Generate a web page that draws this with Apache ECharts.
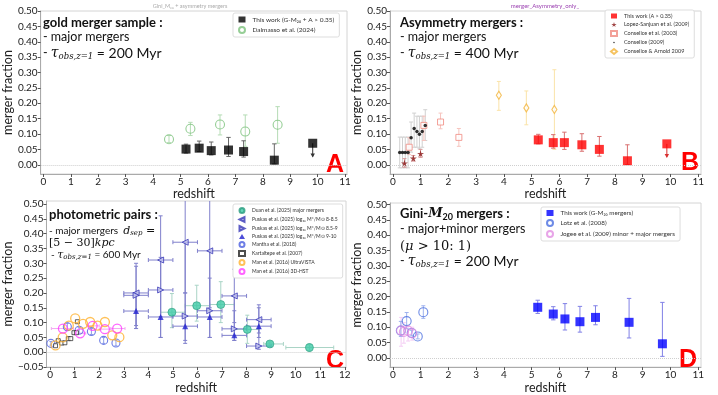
<!DOCTYPE html>
<html>
<head>
<meta charset="utf-8">
<script src="https://cdn.jsdelivr.net/npm/echarts@6/dist/echarts.min.js"></script>
<style>
  html, body { margin: 0; padding: 0; background: #fff; }
  #main { width: 718px; height: 395px; }
</style>
</head>
<body>
<div id="main"></div>
<script>
// ---- tick labels ----
const xTicks11 = [0, 1, 2, 3, 4, 5, 6, 7, 8, 9, 10, 11];
const xTicks12 = [0, 1, 2, 3, 4, 5, 6, 7, 8, 9, 10, 11, 12];
const yTicks = [0, 0.05, 0.10, 0.15, 0.20, 0.25, 0.30, 0.35, 0.40, 0.45, 0.50];
const yTicksC = [-0.05, 0, 0.05, 0.10, 0.15, 0.20, 0.25, 0.30, 0.35, 0.40, 0.45, 0.50];

// ---- panel A: gold merger sample ----
const aWorkZ = [5.20, 5.68, 6.12, 6.75, 7.30, 8.42];
const aWorkF = [0.051, 0.054, 0.046, 0.048, 0.043, 0.015];
const aWorkLo = [0.038, 0.043, 0.032, 0.027, 0.025, 0.003];
const aWorkHi = [0.067, 0.077, 0.074, 0.089, 0.078, 0.068];
const aLimZ = [9.82];
const aLimF = [0.070];
const aLimEnd = [0.027];
const dalZ = [4.58, 5.36, 6.44, 7.36, 8.54];
const dalF = [0.083, 0.117, 0.131, 0.108, 0.130];
const dalLo = [0.072, 0.095, 0.097, 0.060, 0.070];
const dalHi = [0.095, 0.138, 0.162, 0.162, 0.189];

// ---- panel B: asymmetry mergers ----
const bWorkZ = [5.24, 5.78, 6.18, 6.81, 7.44, 8.45];
const bWorkF = [0.081, 0.072, 0.072, 0.065, 0.050, 0.013];
const bWorkLo = [0.068, 0.054, 0.050, 0.044, 0.028, 0.001];
const bWorkHi = [0.099, 0.098, 0.106, 0.101, 0.092, 0.065];
const bLimZ = [9.87];
const bLimF = [0.068];
const bLimEnd = [0.025];
const lopezZ = [0.42, 0.74, 1.00];
const lopezF = [0.005, 0.021, 0.036];
const lopezLo = [-0.008, 0.012, 0.024];
const lopezHi = [0.020, 0.030, 0.050];
const con03Z = [0.59, 1.12, 1.72, 2.38];
const con03F = [0.057, 0.128, 0.139, 0.089];
const con03Lo = [0.033, 0.079, 0.117, 0.060];
const con03Hi = [0.088, 0.158, 0.168, 0.118];
const con09Z = [0.25, 0.35, 0.45, 0.55, 0.66, 0.77, 0.87, 0.96, 1.06, 1.17];
const con09F = [0.040, 0.040, 0.040, 0.040, 0.088, 0.118, 0.108, 0.099, 0.108, 0.128];
const con09Lo = [-0.010, -0.010, -0.010, -0.010, 0.041, 0.057, 0.057, 0.052, 0.057, 0.079];
const con09Hi = [0.090, 0.090, 0.090, 0.090, 0.139, 0.168, 0.158, 0.158, 0.158, 0.179];
const arnZ = [3.82, 4.81, 5.82];
const arnF = [0.226, 0.185, 0.180];
const arnLo = [0.177, 0.130, 0.050];
const arnHi = [0.271, 0.240, 0.309];

// ---- panel C: photometric pairs ----
const duanZ = [4.96, 5.97, 6.95, 8.03, 8.95, 10.56];
const duanF = [0.135, 0.157, 0.161, 0.077, 0.028, 0.016];
const duanLo = [0.083, 0.105, 0.100, 0.030, 0.019, 0.002];
const duanHi = [0.198, 0.226, 0.238, 0.125, 0.035, 0.028];
const duanXlo = [4.50, 5.50, 6.50, 7.50, 8.70, 9.60];
const duanXhi = [5.50, 6.50, 7.50, 8.50, 9.50, 11.55];
const pusZ = [3.5, 4.5, 5.5, 6.5, 7.5, 8.5];
const pusXlo = [3.0, 4.0, 5.0, 6.0, 7.0, 8.0];
const pusXhi = [4.0, 5.0, 6.0, 7.0, 8.0, 9.0];
const pus1F = [0.200, 0.311, 0.371, 0.342, 0.190, 0.110];
const pus1Lo = [0.090, 0.120, 0.200, 0.150, 0.100, 0.065];
const pus1Hi = [0.300, 0.460, 0.560, 0.560, 0.280, 0.160];
const pus2F = [0.192, 0.210, 0.122, 0.140, 0.079, 0.021];
const pus2Lo = [0.080, 0.050, 0.040, 0.050, 0.040, 0.010];
const pus2Hi = [0.290, 0.320, 0.370, 0.340, 0.190, 0.080];
const pus3F = [0.139, 0.119, 0.088, 0.119, 0.057, 0.088];
const pus3Lo = [0.080, 0.050, 0.030, 0.050, 0.040, 0.050];
const pus3Hi = [0.200, 0.310, 0.200, 0.250, 0.140, 0.150];
const manthaZ = [0.03, 0.70, 1.18, 1.68, 2.18, 2.68];
const manthaF = [0.030, 0.086, 0.074, 0.070, 0.040, 0.031];
const manthaLo = [0.024, 0.075, 0.064, 0.060, 0.030, 0.022];
const manthaHi = [0.036, 0.098, 0.084, 0.080, 0.050, 0.040];
const kartZ = [0.22, 0.33, 0.47, 0.60, 0.74, 0.84, 0.97, 1.07, 1.11];
const kartF = [0.022, 0.039, 0.031, 0.032, 0.046, 0.046, 0.066, 0.066, 0.103];
const manUvZ = [0.22, 0.51, 0.76, 1.02, 1.34, 1.63, 1.93, 2.23, 2.53, 2.82];
const manUvF = [0.023, 0.050, 0.090, 0.114, 0.096, 0.102, 0.090, 0.102, 0.057, 0.051];
const man3dZ = [0.52, 1.22, 1.73, 2.23, 2.73];
const man3dF = [0.080, 0.064, 0.089, 0.078, 0.080];
const man3dXlo = [0.05, 1.00, 1.50, 2.00, 2.47];
const man3dXhi = [0.95, 1.45, 2.00, 2.48, 3.05];

// ---- panel D: Gini-M20 mergers ----
const dWorkZ = [5.22, 5.78, 6.20, 6.74, 7.30, 8.51, 9.71];
const dWorkF = [0.165, 0.143, 0.127, 0.118, 0.132, 0.116, 0.046];
const dWorkLo = [0.145, 0.124, 0.091, 0.084, 0.108, 0.065, 0.005];
const dWorkHi = [0.188, 0.167, 0.177, 0.168, 0.170, 0.194, 0.181];
const lotzZ = [0.29, 0.50, 0.68, 0.90, 1.10];
const lotzF = [0.089, 0.120, 0.081, 0.070, 0.149];
const lotzLo = [0.070, 0.095, 0.072, 0.062, 0.129];
const lotzHi = [0.119, 0.148, 0.090, 0.078, 0.170];
const jogeeZ = [0.30, 0.40, 0.55, 0.70];
const jogeeF = [0.089, 0.085, 0.089, 0.080];
const jogeeLo = [0.038, 0.048, 0.055, 0.058];
const jogeeHi = [0.132, 0.115, 0.105, 0.100];

const FONT = 'Lato';
const STAR = 'path://M50,0 L61,35 L98,35 L68,57 L79,91 L50,70 L21,91 L32,57 L2,35 L39,35 Z';
const TRI_LEFT = 'path://M0,5 L10,0 L10,10 Z';
const TRI_RIGHT = 'path://M0,0 L10,5 L0,10 Z';
// small dot inside a larger (invisible) box, so the legend icon stays small
const DOT_ICON = 'path://M0,0 L0.01,0 L0,0.01 Z M10,10 L9.99,10 L10,9.99 Z M6.5,5 A1.5,1.5 0 1 1 6.49,4.9 Z';

function pts(z, f) {
  return z.map((v, i) => [v, f[i]]);
}
function errData(z, f, lo, hi, xlo, xhi) {
  return z.map((v, i) => xlo ? [v, f[i], lo ? lo[i] : f[i], hi ? hi[i] : f[i], xlo[i], xhi[i]]
                             : [v, f[i], lo[i], hi[i]]);
}

function errRender(color, cap, width) {
  return function (params, api) {
    const x = api.value(0), y = api.value(1);
    const lo = api.value(2), hi = api.value(3);
    const xl = api.value(4), xh = api.value(5);
    const st = { stroke: color, lineWidth: width || 1 };
    const ch = [];
    const a = api.coord([x, lo]), b = api.coord([x, hi]);
    if (Math.abs(a[1] - b[1]) > 0.5) {
      ch.push({ type: 'line', shape: { x1: a[0], y1: a[1], x2: b[0], y2: b[1] }, style: st });
      ch.push({ type: 'line', shape: { x1: a[0] - cap, y1: a[1], x2: a[0] + cap, y2: a[1] }, style: st });
      ch.push({ type: 'line', shape: { x1: b[0] - cap, y1: b[1], x2: b[0] + cap, y2: b[1] }, style: st });
    }
    if (typeof xl === 'number' && isFinite(xl)) {
      const c = api.coord([xl, y]), d = api.coord([xh, y]);
      ch.push({ type: 'line', shape: { x1: c[0], y1: c[1], x2: d[0], y2: d[1] }, style: st });
      ch.push({ type: 'line', shape: { x1: c[0], y1: c[1] - cap, x2: c[0], y2: c[1] + cap }, style: st });
      ch.push({ type: 'line', shape: { x1: d[0], y1: d[1] - cap, x2: d[0], y2: d[1] + cap }, style: st });
    }
    return { type: 'group', children: ch };
  };
}

function arrowRender(color) {
  return function (params, api) {
    const a = api.coord([api.value(0), api.value(1)]);
    const b = api.coord([api.value(0), api.value(2)]);
    return {
      type: 'group',
      children: [
        { type: 'line', shape: { x1: a[0], y1: a[1], x2: b[0], y2: b[1] }, style: { stroke: color, lineWidth: 1 } },
        { type: 'polygon', shape: { points: [[b[0] - 2.2, b[1] - 3], [b[0] + 2.2, b[1] - 3], [b[0], b[1] + 1]] }, style: { fill: color } }
      ]
    };
  };
}

function errSeries(p, data, color, cap, width) {
  return {
    type: 'custom', xAxisIndex: p, yAxisIndex: p, silent: true, clip: true, z: 1,
    renderItem: errRender(color, cap, width), encode: { x: 0, y: 1 }, data: data
  };
}
function arrowSeries(p, z, f, end, color) {
  return {
    type: 'custom', xAxisIndex: p, yAxisIndex: p, silent: true, z: 1,
    renderItem: arrowRender(color), encode: { x: 0, y: 1 },
    data: z.map((v, i) => [v, f[i], end[i]])
  };
}
function scat(name, p, data, symbol, size, itemStyle, extra) {
  return Object.assign({
    name: name, type: 'scatter', xAxisIndex: p, yAxisIndex: p, z: 3,
    symbol: symbol, symbolSize: size, itemStyle: itemStyle, data: data, silent: true
  }, extra || {});
}
function zeroLine() {
  return {
    silent: true, symbol: 'none', label: { show: false },
    lineStyle: { type: 'dotted', color: '#cfcfcf', width: 1 },
    data: [{ yAxis: 0 }]
  };
}

const grids = [
  { left: 36, top: 11, width: 311, height: 163 },
  { left: 390, top: 11, width: 311, height: 163 },
  { left: 43, top: 201, width: 303, height: 169 },
  { left: 390, top: 203, width: 311, height: 165 }
];
const xRange = [[-0.1, 11.07], [-0.1, 11.1], [-0.15, 12.05], [-0.1, 11.1]];
const yRange = [[-0.03, 0.5], [-0.03, 0.5], [-0.05, 0.51], [-0.03, 0.505]];

function fmtY(v) {
  return v < 0 ? '\u2212' + Math.abs(v).toFixed(2) : v.toFixed(2);
}

const xAxes = grids.map((g, i) => ({
  gridIndex: i, type: 'value', min: xRange[i][0], max: xRange[i][1],
  name: 'redshift', nameLocation: 'middle', nameGap: 12,
  nameTextStyle: { fontSize: 12.5, fontFamily: FONT, color: '#222' },
  axisLine: { onZero: false, lineStyle: { color: '#aaa' } },
  axisTick: { customValues: i === 2 ? xTicks12 : xTicks11, length: 3, lineStyle: { color: '#555' } },
  axisLabel: { customValues: i === 2 ? xTicks12 : xTicks11, fontSize: 10, fontFamily: FONT, color: '#222', margin: 3 },
  splitLine: { show: false }
}));
const yAxes = grids.map((g, i) => ({
  gridIndex: i, type: 'value', min: yRange[i][0], max: yRange[i][1],
  name: 'merger fraction', nameLocation: 'middle', nameGap: 22,
  nameTextStyle: { fontSize: 12.5, fontFamily: FONT, color: '#222' },
  axisLine: { onZero: false, lineStyle: { color: '#aaa' } },
  axisTick: { customValues: i === 2 ? yTicksC : yTicks, length: 3, lineStyle: { color: '#555' } },
  axisLabel: { customValues: i === 2 ? yTicksC : yTicks, formatter: fmtY, fontSize: 10, fontFamily: FONT, color: '#222', margin: 3 },
  splitLine: { show: false }
}));

function leg(names, left, top, fs, gap, iw) {
  return {
    data: names, orient: 'vertical', left: left, top: top, selectedMode: false,
    itemWidth: iw, itemHeight: iw - 1, itemGap: gap, padding: [3, 5, 3, 5],
    backgroundColor: '#fff', borderColor: '#ddd', borderWidth: 1, borderRadius: 2,
    textStyle: { fontSize: fs, fontFamily: FONT, color: '#333', padding: [0, 0, 0, 2] }
  };
}

const N = {
  aWork: 'This work (G-M\u2082\u2080 + A > 0.35)',
  dal: 'Dalmasso et al. (2024)',
  bWork: 'This work (A > 0.35)',
  lopez: 'Lopez-Sanjuan et al. (2009)',
  con03: 'Conselice et al. (2003)',
  con09: 'Conselice (2009)',
  arn: 'Conselice & Arnold 2009',
  duan: 'Duan et al. (2025) major mergers',
  pus1: 'Puskas et al. (2025) log\u2081\u2080 M*/M\u2299 8-8.5',
  pus2: 'Puskas et al. (2025) log\u2081\u2080 M*/M\u2299 8.5-9',
  pus3: 'Puskas et al. (2025) log\u2081\u2080 M*/M\u2299 9-10',
  mantha: 'Mantha et al. (2018)',
  kart: 'Kartaltepe et al. (2007)',
  manUv: 'Man et al. (2016) UltraVISTA',
  man3d: 'Man et al. (2016) 3D-HST',
  dWork: 'This work (G-M\u2082\u2080 mergers)',
  lotz: 'Lotz et al. (2008)',
  jogee: 'Jogee et al. (2009) minor + major mergers'
};

const hollow = 'rgba(255,255,255,0)';
const series = [
  // A
  errSeries(0, errData(dalZ, dalF, dalLo, dalHi), '#b5dcb5', 2.2),
  errSeries(0, errData(aWorkZ, aWorkF, aWorkLo, aWorkHi), '#666', 2.2),
  arrowSeries(0, aLimZ, aLimF, aLimEnd, '#333'),
  scat(N.aWork, 0, pts(aWorkZ.concat(aLimZ), aWorkF.concat(aLimF)), 'rect', 9, { color: '#000' }, { markLine: zeroLine() }),
  scat(N.dal, 0, pts(dalZ, dalF), 'circle', 9, { color: hollow, borderColor: '#7cc27c', borderWidth: 1.1 }),
  // B
  errSeries(1, errData(con09Z, con09F, con09Lo, con09Hi), '#d0d0d0', 2),
  errSeries(1, errData(con03Z, con03F, con03Lo, con03Hi), '#f6c4be', 2),
  errSeries(1, errData(arnZ, arnF, arnLo, arnHi), '#fae3a8', 2),
  errSeries(1, errData(lopezZ, lopezF, lopezLo, lopezHi), '#d99a9a', 2),
  errSeries(1, errData(bWorkZ, bWorkF, bWorkLo, bWorkHi), '#d97070', 2.2),
  arrowSeries(1, bLimZ, bLimF, bLimEnd, '#d83030'),
  scat(N.bWork, 1, pts(bWorkZ.concat(bLimZ), bWorkF.concat(bLimF)), 'rect', 9, { color: '#ff0000' }, { markLine: zeroLine() }),
  scat(N.lopez, 1, pts(lopezZ, lopezF), STAR, 7, { color: '#8b1a1a' }),
  scat(N.con03, 1, pts(con03Z, con03F), 'rect', 6, { color: '#fff', borderColor: '#f08a80', borderWidth: 1 }),
  scat(N.con09, 1, pts(con09Z, con09F), 'circle', 3.5, { color: '#000' }),
  scat(N.arn, 1, pts(arnZ, arnF), 'diamond', [5, 8], { color: '#fff', borderColor: '#f2b43a', borderWidth: 1.2 }),
  // C
  errSeries(2, errData(duanZ, duanF, duanLo, duanHi, duanXlo, duanXhi), '#a9d4c6', 2),
  errSeries(2, errData(pusZ, pus1F, pus1Lo, pus1Hi, pusXlo, pusXhi), '#8080cc', 2),
  errSeries(2, errData(pusZ, pus2F, pus2Lo, pus2Hi, pusXlo, pusXhi), '#8080cc', 2),
  errSeries(2, errData(pusZ, pus3F, pus3Lo, pus3Hi, pusXlo, pusXhi), '#8080cc', 2),
  errSeries(2, errData(manthaZ, manthaF, manthaLo, manthaHi), '#8f9ee8', 1.5),
  errSeries(2, errData(man3dZ, man3dF, null, null, man3dXlo, man3dXhi), '#f3a8f3', 1.5),
  scat(N.duan, 2, pts(duanZ, duanF), 'circle', 8, { color: '#3ecba6', borderColor: '#2a9c80', borderWidth: 0.8 }, { markLine: zeroLine() }),
  scat(N.pus1, 2, pts(pusZ, pus1F), TRI_LEFT, 6, { color: '#c3c3ef', borderColor: '#3a3ab8', borderWidth: 1 }),
  scat(N.pus2, 2, pts(pusZ, pus2F), TRI_RIGHT, 6, { color: '#c3c3ef', borderColor: '#3a3ab8', borderWidth: 1 }),
  scat(N.pus3, 2, pts(pusZ, pus3F), 'triangle', 6, { color: '#2020d0' }),
  scat(N.mantha, 2, pts(manthaZ, manthaF), 'circle', 8, { color: hollow, borderColor: '#4a5ee0', borderWidth: 1.1 }),
  scat(N.kart, 2, pts(kartZ, kartF), 'rect', 4, { color: '#fff', borderColor: '#222', borderWidth: 0.9 }),
  scat(N.manUv, 2, pts(manUvZ, manUvF), 'circle', 9, { color: hollow, borderColor: '#ffb22e', borderWidth: 1.3 }),
  scat(N.man3d, 2, pts(man3dZ, man3dF), 'circle', 9, { color: hollow, borderColor: '#ff3cff', borderWidth: 1.3 }),
  // D
  errSeries(3, errData(jogeeZ, jogeeF, jogeeLo, jogeeHi), '#f4cdf4', 2),
  errSeries(3, errData(lotzZ, lotzF, lotzLo, lotzHi), '#9fb2ee', 2),
  errSeries(3, errData(dWorkZ, dWorkF, dWorkLo, dWorkHi), '#8080e6', 2.2),
  scat(N.dWork, 3, pts(dWorkZ, dWorkF), 'rect', 9, { color: '#0000ff' }, { markLine: zeroLine() }),
  scat(N.lotz, 3, pts(lotzZ, lotzF), 'circle', 9, { color: hollow, borderColor: '#4a6ee0', borderWidth: 1.1 }),
  scat(N.jogee, 3, pts(jogeeZ, jogeeF), 'circle', 9, { color: hollow, borderColor: '#e28ee2', borderWidth: 1.1 })
];

const legends = [
  leg([N.aWork, N.dal], 233, 13, 6.5, 3, 7),
  leg([N.bWork, N.lopez, N.con03, { name: N.con09, icon: DOT_ICON }, N.arn], 605, 10, 5.5, 2.5, 6),
  leg([N.duan, N.pus1, N.pus2, N.pus3, N.mantha, N.kart, N.manUv, N.man3d], 233, 204, 5, 2, 6),
  leg([N.dWork, N.lotz, N.jogee], 541, 207, 6.3, 3, 7)
];

// ---- annotation text ----
const rich = {
  n: { fontSize: 12.5, fontFamily: FONT, fill: '#111' },
  b: { fontSize: 13, fontFamily: FONT, fontWeight: 'bold', fill: '#111' },
  t: { fontSize: 14, fontFamily: 'DejaVu Serif', fontStyle: 'italic', fill: '#111' },
  s: { fontSize: 8.5, fontFamily: 'DejaVu Serif', fontStyle: 'italic', fill: '#111', padding: [7, 0, 0, 0] },
  e: { fontSize: 14, fontFamily: FONT, fill: '#111' },
  sn: { fontSize: 10, fontFamily: FONT, fill: '#111' },
  st: { fontSize: 11, fontFamily: 'DejaVu Serif', fontStyle: 'italic', fill: '#111' },
  ss: { fontSize: 7, fontFamily: 'DejaVu Serif', fontStyle: 'italic', fill: '#111', padding: [5, 0, 0, 0] },
  sr: { fontSize: 11, fontFamily: 'DejaVu Serif', fill: '#111' },
  bi: { fontSize: 13, fontFamily: 'DejaVu Serif', fontStyle: 'italic', fontWeight: 'bold', fill: '#111' },
  bs: { fontSize: 9, fontFamily: FONT, fontWeight: 'bold', fill: '#111', padding: [6, 0, 0, 0] },
  sf: { fontSize: 13, fontFamily: 'DejaVu Serif', fill: '#111' },
  si: { fontSize: 13, fontFamily: 'DejaVu Serif', fontStyle: 'italic', fill: '#111' }
};
function txt(x, y, text) {
  return { type: 'text', x: x, y: y, silent: true, style: { text: text, rich: rich, verticalAlign: 'middle' } };
}
function letter(x, y, s) {
  return { type: 'text', x: x, y: y, silent: true,
    style: { text: s, fontSize: 25, fontWeight: 'bold', fontFamily: 'Liberation Sans', fill: '#ff0000', align: 'center', verticalAlign: 'middle' } };
}
function small(x, y, s, color, fs) {
  return { type: 'text', x: x, y: y, silent: true,
    style: { text: s, fontSize: fs, fontFamily: FONT, fill: color, align: 'center', verticalAlign: 'middle' } };
}

const graphics = [
  small(190, 6, 'Gini_M\u2082\u2080 + asymmetry mergers', '#aaa', 5.5),
  small(545, 6, 'merger_Asymmetry_only_', '#9a3fb0', 6),
  txt(43, 23, '{b|gold merger sample :}'),
  txt(43, 37, '{n|- major mergers}'),
  txt(43, 53, '{n|- }{t|\u03c4}{s|obs,z=1}{e| = 200 Myr}'),
  txt(400, 23, '{b|Asymmetry mergers :}'),
  txt(400, 37, '{n|- major mergers}'),
  txt(400, 53, '{n|- }{t|\u03c4}{s|obs,z=1}{e| = 400 Myr}'),
  txt(49, 215, '{b|photometric pairs :}'),
  txt(49, 231, '{sn|- major mergers  }{st|d}{ss|sep}{sr| =}'),
  txt(49, 243, '{sr|[5 \u2212 30]}{st|kpc}'),
  txt(51, 255, '{sn|- }{st|\u03c4}{ss|obs,z=1}{sn| = 600 Myr}'),
  txt(400, 214, '{b|Gini-}{bi|M}{bs|20}{b| mergers :}'),
  txt(400, 229, '{n|- major+minor mergers}'),
  txt(400, 247, '{sf|(}{si|\u03bc}{sf| > 10: 1)}'),
  txt(400, 261, '{n|- }{t|\u03c4}{s|obs,z=1}{e| = 200 Myr}'),
  letter(335, 165, 'A'),
  letter(690, 163, 'B'),
  letter(335, 361, 'C'),
  letter(688, 360, 'D')
];

const myChart = echarts.init(document.getElementById('main'));
myChart.setOption({
  animation: false,
  backgroundColor: '#fff',
  grid: grids.map(g => Object.assign({ show: true, borderColor: '#d4d4d4', borderWidth: 1, containLabel: false }, g)),
  xAxis: xAxes,
  yAxis: yAxes,
  legend: legends,
  series: series,
  graphic: graphics
});
</script>
</body>
</html>
